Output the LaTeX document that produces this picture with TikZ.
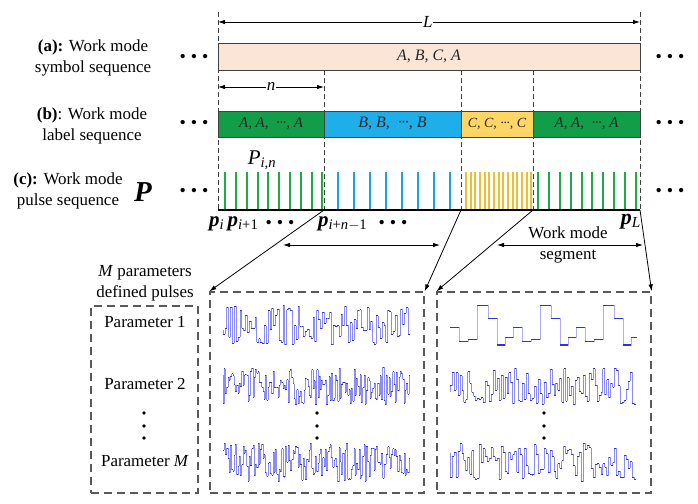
\documentclass[tikz,border=0pt]{standalone}
\usepackage{fontspec}
\setmainfont{Liberation Serif}
\usetikzlibrary{arrows.meta}
\definecolor{peach}{RGB}{251,229,214}
\definecolor{gbar}{RGB}{18,158,72}
\definecolor{bbar}{RGB}{30,174,234}
\definecolor{ybar}{RGB}{255,214,102}
\definecolor{gpul}{RGB}{30,170,70}
\definecolor{bpul}{RGB}{30,160,220}
\definecolor{ypul}{RGB}{240,190,50}
\definecolor{sig}{RGB}{140,140,245}
\definecolor{sigd}{RGB}{50,50,215}
\newcommand{\tdots}{\textbullet\hspace{5bp}\textbullet\hspace{5bp}\textbullet}
\newcommand{\cdt}{\textperiodcentered\kern-0.5pt\textperiodcentered\kern-0.5pt\textperiodcentered}
\newcommand{\sigrow}[5]{%
  \pgfmathsetmacro\sstep{(#2-#1)/#3}%
  \pgfmathsetmacro\prevy{#4+#5*rnd}%
  \xdef\prevy{\prevy}%
  \foreach \i in {1,...,#3} {%
    \pgfmathsetmacro\xa{#1+(\i-1)*\sstep}%
    \pgfmathsetmacro\yv{#4+#5*rnd}%
    \draw[sigv] (\xa,\prevy) -- (\xa,\yv);
    \draw[sigh] (\xa,\yv) -- ++(\sstep,0);
    \xdef\prevy{\yv}%
  }%
}
\begin{document}
\begin{tikzpicture}[x=1bp,y=-1bp,
  lbl/.style={align=center,font=\fontsize{17}{21}\selectfont,inner sep=0},
  bartext/.style={font=\fontsize{15}{18}\selectfont\itshape,text=black!85},
  barbox/.style={draw=black!75,line width=0.9bp,inner sep=0,minimum height=26bp},
  vdash/.style={draw=black!75,line width=0.8bp,dash pattern=on 5bp off 3bp},
  boxdash/.style={draw=black!65,line width=1.3bp,dash pattern=on 8bp off 5bp,inner sep=0},
  tip/.style={-{Latex[length=7bp,width=4.5bp]}},
  dtip/.style={{Latex[length=7bp,width=4.5bp]}-{Latex[length=7bp,width=4.5bp]}},
  dotsn/.style={font=\fontsize{18}{20}\selectfont,inner sep=0},
  pul/.style={line width=2bp},
  sigv/.style={sig,line width=0.5bp},
  sigh/.style={sigd,line width=0.7bp}
]
\useasboundingbox (0,0) rectangle (698,504);

% dashed verticals
\draw[vdash] (218,12) -- (218,210);
\draw[vdash] (640,12) -- (640,210);
\draw[vdash] (324,70) -- (324,210);
\draw[vdash] (461,70) -- (461,210);
\draw[vdash] (533,70) -- (533,210);

% L arrow
\coordinate (Ll) at (218,22);
\coordinate (Lr) at (640,22);
\draw[dtip,line width=0.8bp] (Ll) -- (Lr) node[pos=0.497,fill=white,inner sep=1bp,font=\fontsize{17}{20}\selectfont\itshape] (Llab) {L};

% bar (a)
\node[barbox,fill=peach,minimum width=422bp,minimum height=27bp,bartext,font=\fontsize{16}{18}\selectfont\itshape] (bara) at (429,56.5) {A, B, C, A};

% n arrow
\coordinate (nl) at (218,87);
\coordinate (nr) at (324,87);
\draw[dtip,line width=0.8bp] (nl) -- (nr) node[midway,fill=white,inner sep=1bp,font=\fontsize{17}{20}\selectfont\itshape] (nlab) {n};

% bar (b)
\node[barbox,fill=gbar,minimum width=106bp,bartext] (g1) at (271,124) {A,\ A,\ \ \cdt, A};
\node[barbox,fill=bbar,minimum width=137bp,bartext,font=\fontsize{16}{18}\selectfont\itshape] (bb) at (392.5,124) {B,\ B,\ \ \cdt, B};
\node[barbox,fill=ybar,minimum width=72bp,bartext,font=\fontsize{14}{16}\selectfont\itshape] (yb) at (497,124) {C, C, \cdt, C};
\node[barbox,fill=gbar,minimum width=107bp,bartext] (g2) at (586.5,124) {A,\ A,\ \ \cdt, A};

% P_{i,n}
\node[inner sep=0,font=\fontsize{21}{24}\selectfont] (pin) at (262,160) {\textit{P}\textsubscript{\textit{i,n}}};

% pulses
\foreach \xx in {225,236,247,258,268,279,290,301,312,322} \draw[pul,gpul] (\xx,172) -- (\xx,210);
\foreach \xx in {338,354,370,386,402,418,434,450} \draw[pul,bpul] (\xx,172) -- (\xx,210);
\foreach \xx in {466,471,475,480,485,489,494,499,503,508,513,517,522,527,531} \draw[pul,ypul,line width=1.3bp] (\xx,172) -- (\xx,210);
\foreach \xx in {538,549,560,571,582,592,603,614,625,636} \draw[pul,gpul] (\xx,172) -- (\xx,210);

% baseline
\coordinate (b0) at (218,210);
\coordinate (b1) at (324,210);
\coordinate (b2) at (461,210);
\coordinate (b3) at (533,210);
\coordinate (b4) at (640,210);
\draw[line width=1.3bp] (b0) -- (b4);

% left labels
\node[lbl] (la) at (93,58) {\textbf{(a):} Work mode\\symbol sequence};
\node[lbl] (lb) at (92,126) {\textbf{(b)}: Work mode\\label sequence};
\node[lbl] (lc) at (68,191) {\textbf{(c):} Work mode\\pulse sequence};
\node[inner sep=0,font=\fontsize{29}{30}\selectfont\bfseries\itshape] (bigP) at (143,192) {P};

% dots
\node[dotsn] (d1) at (194,58) {\tdots};
\node[dotsn] (d2) at (194,124) {\tdots};
\node[dotsn] (d3) at (194,192) {\tdots};
\node[dotsn] (d4) at (670,58) {\tdots};
\node[dotsn] (d5) at (670,124) {\tdots};
\node[dotsn] (d6) at (670,192) {\tdots};

% p labels
\node[inner sep=0,font=\fontsize{21}{24}\selectfont,anchor=west] (pi) at (209,224) {\textbf{\textit{p}}\textsubscript{\textit{i}}\,\textbf{\textit{p}}\textsubscript{\textit{i}+1}};
\node[dotsn] (d7) at (280,224) {\tdots};
\node[inner sep=0,font=\fontsize{21}{24}\selectfont,anchor=west] (pin1) at (318,224) {\textbf{\textit{p}}\textsubscript{\textit{i}+\textit{n}$-$1}};
\node[dotsn] (d8) at (393,224) {\tdots};
\node[inner sep=0,font=\fontsize{22}{24}\selectfont,anchor=east] (pL) at (641,222) {\textbf{\textit{p}}\textsubscript{\textit{L}}};

% lower boxes
\node[boxdash,minimum width=107bp,minimum height=187bp] (box0) at (144.5,399.5) {};
\node[boxdash,minimum width=214bp,minimum height=201bp] (box1) at (317,392.5) {};
\node[boxdash,minimum width=214bp,minimum height=201bp] (box2) at (544,392.5) {};

% diagonal arrows
\draw[tip,line width=0.8bp] (b1) -- (box1.north west);
\draw[tip,line width=0.8bp] (b2) -- (box1.north east);
\draw[tip,line width=0.8bp] (b3) -- (box2.north west);
\draw[tip,line width=0.8bp] (b4) -- (box2.north east);

% horizontal double arrows
\coordinate (h1l) at (283,245);
\coordinate (h1r) at (440,245);
\coordinate (h2l) at (497,245);
\coordinate (h2r) at (643,245);
\draw[dtip,line width=0.8bp] (h1l) -- (h1r);
\draw[dtip,line width=0.8bp] (h2l) -- (h2r);
\node[lbl] (wms) at (568,244.5) {Work mode\\segment};

% box0 text
\node[lbl] (mp) at (145,283) {\textit{M} parameters\\defined pulses};
\node[lbl] (par1) at (145,322) {Parameter 1};
\node[lbl] (par2) at (145,384) {Parameter 2};
\node[lbl] (parM) at (145,461) {Parameter \textit{M}};
\foreach \yy in {413,426,438} \fill (144,\yy) circle (1.9bp);
\foreach \yy in {413,426,438} \fill (317,\yy) circle (1.9bp);
\foreach \yy in {413,426,438} \fill (544,\yy) circle (1.9bp);

% signals
\pgfmathsetseed{12345}
\sigrow{223}{410}{100}{305}{40}
\sigrow{223}{410}{150}{367}{38}
\sigrow{223}{410}{150}{443}{39}
\sigrow{450}{636}{95}{367}{38}
\sigrow{450}{636}{95}{443}{39}

% step row
\draw[sig!70!white,line width=0.6bp] plot[const plot] coordinates {
 (450,327.7) (459,341.7) (468,339.7) (477,305.7) (488,318.3) (497,345) (505,337.3)
 (513,327.7) (522,341.7) (531,339.7) (540,305.7) (551,318.3) (560,345) (568,337.3)
 (576,327.7) (585,341.7) (594,339.7) (603,305.7) (614,318.3) (623,345) (631,337.3) (637,337.3)};
\foreach \xa/\xb/\yv in {450/459/327.7,459/468/341.7,468/477/339.7,477/488/305.7,488/497/318.3,497/505/345,505/513/337.3,
 513/522/327.7,522/531/341.7,531/540/339.7,540/551/305.7,551/560/318.3,560/568/345,568/576/337.3,
 576/585/327.7,585/594/341.7,594/603/339.7,603/614/305.7,614/623/318.3,623/631/345,631/637/337.3}
 \draw[sigd,line width=1.1bp] (\xa,\yv) -- (\xb,\yv);
\end{tikzpicture}
\end{document}
